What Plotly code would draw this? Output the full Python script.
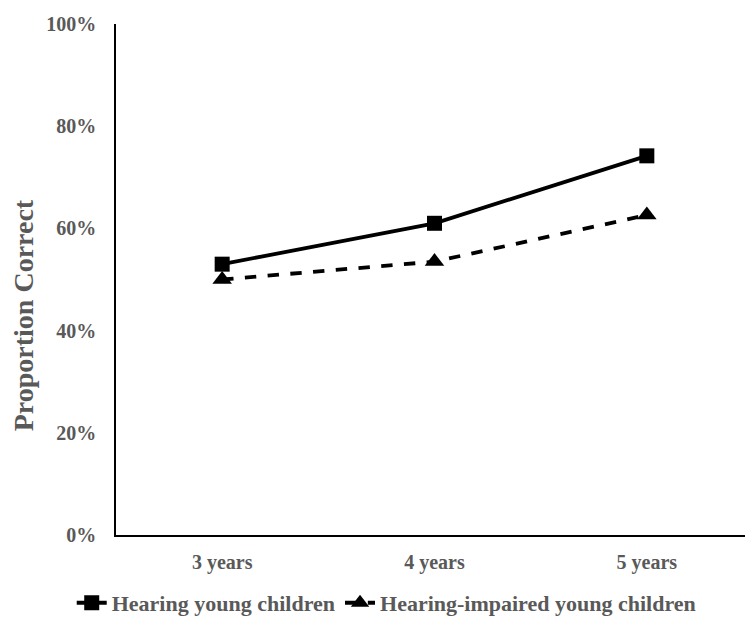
import plotly.graph_objects as go

categories = ["3 years", "4 years", "5 years"]
hearing = [53.0, 61.0, 74.2]
impaired = [50.0, 53.5, 62.6]
y_ticks = [0, 20, 40, 60, 80, 100]
y_tick_labels = ["0%", "20%", "40%", "60%", "80%", "100%"]
y_title = "Proportion Correct"

font_family = "Liberation Serif, Times New Roman, serif"
gray = "#595959"

fig = go.Figure()
fig.add_trace(go.Scatter(
    x=categories, y=hearing, name="Hearing young children",
    mode="lines+markers",
    line=dict(color="black", width=3.8),
    marker=dict(symbol="square", size=15, color="black"),
))
fig.add_trace(go.Scatter(
    x=categories, y=impaired, name="Hearing-impaired young children",
    mode="lines+markers",
    line=dict(color="black", width=3.8, dash="dash"),
    marker=dict(symbol="triangle-up", size=17, color="black"),
))

# the page body has an 8px default margin, so the figure is sized to fit the window
fig.update_layout(
    width=745, height=618,
    margin=dict(l=108, r=0, t=16, b=91),
    plot_bgcolor="white", paper_bgcolor="white",
    font=dict(family=font_family, size=20, color=gray),
    showlegend=True,
    legend=dict(orientation="h", x=0.425, xanchor="center", y=-0.133, yanchor="middle",
                yref="paper",
                font=dict(family=font_family, size=22, color=gray, weight="bold"),
                itemwidth=30, tracegroupgap=0),
    xaxis=dict(
        type="category", showgrid=False, zeroline=False, automargin=False,
        showline=True, linecolor="black", linewidth=1.5,
        ticks="", ticklabelstandoff=8,
        tickfont=dict(family=font_family, size=20, color=gray, weight="bold"),
        range=[-0.5, 2.5],
    ),
    yaxis=dict(
        range=[0, 100], tickvals=y_ticks, ticktext=y_tick_labels,
        showgrid=False, zeroline=False, automargin=False,
        showline=True, linecolor="black", linewidth=1.5,
        ticks="", ticklabelstandoff=14,
        tickfont=dict(family=font_family, size=20, color=gray, weight="bold"),
    ),
    annotations=[dict(
        text=y_title, textangle=-90, showarrow=False,
        xref="paper", yref="paper", x=-0.146, y=0.43,
        xanchor="center", yanchor="middle",
        font=dict(family=font_family, size=28, color=gray, weight="bold"),
    )],
)

fig.write_html("out.html")
